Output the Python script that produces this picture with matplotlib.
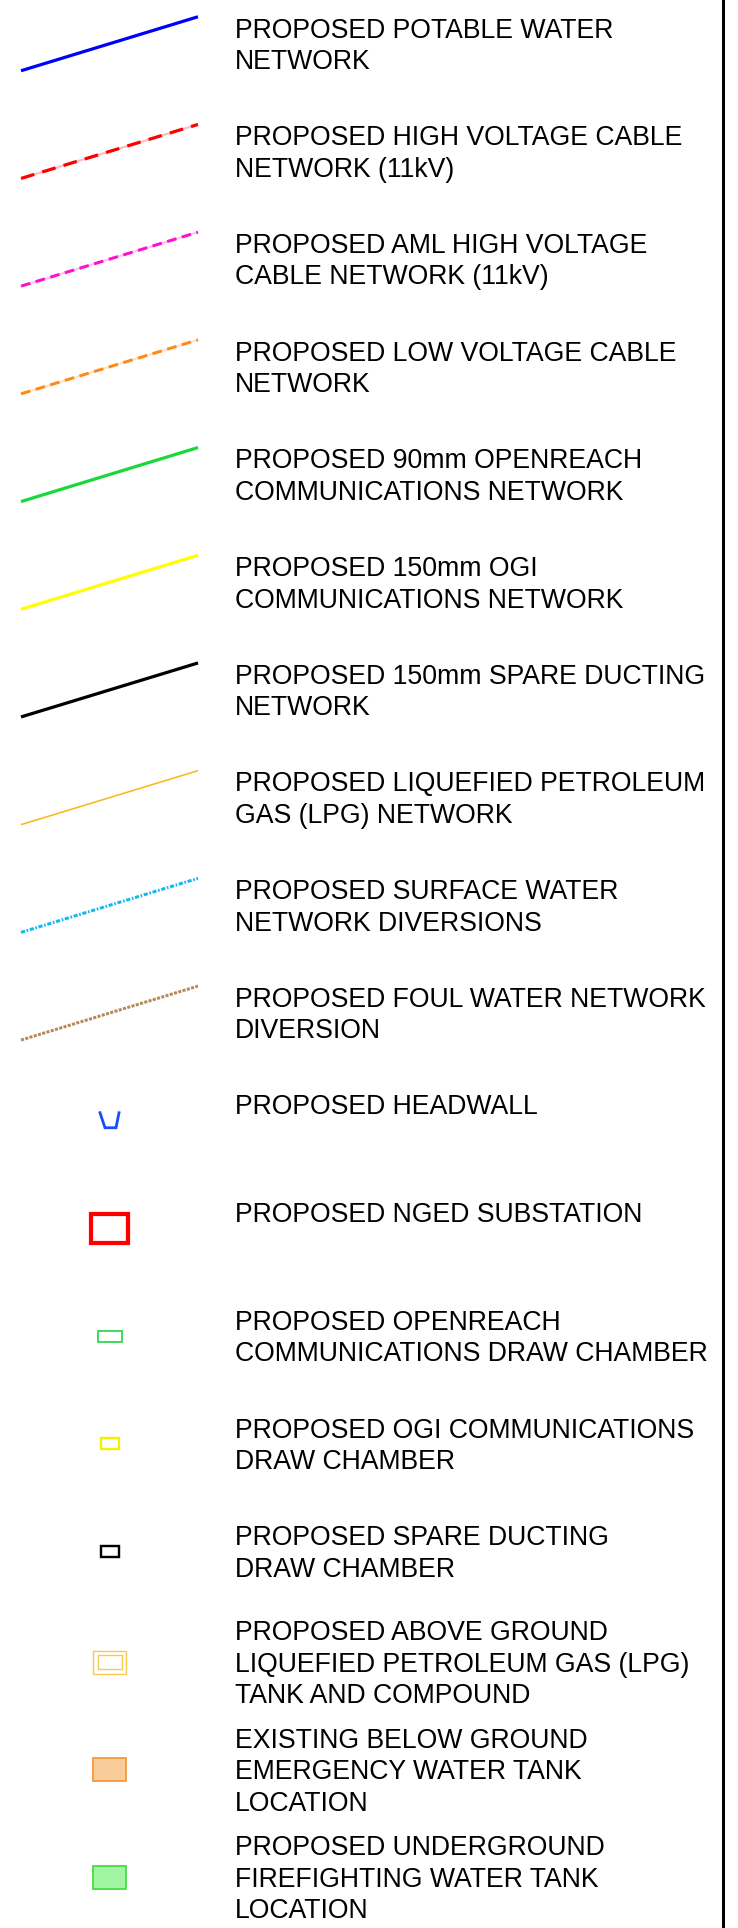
import matplotlib
matplotlib.use("Agg")
import matplotlib.pyplot as plt
from matplotlib.patches import Rectangle

plt.rcParams['lines.scale_dashes'] = False

# ---- legend content ----
labels = [
    ["PROPOSED POTABLE WATER", "NETWORK"],
    ["PROPOSED HIGH VOLTAGE CABLE", "NETWORK (11kV)"],
    ["PROPOSED AML HIGH VOLTAGE", "CABLE NETWORK (11kV)"],
    ["PROPOSED LOW VOLTAGE CABLE", "NETWORK"],
    ["PROPOSED 90mm OPENREACH", "COMMUNICATIONS NETWORK"],
    ["PROPOSED 150mm OGI", "COMMUNICATIONS NETWORK"],
    ["PROPOSED 150mm SPARE DUCTING", "NETWORK"],
    ["PROPOSED LIQUEFIED PETROLEUM", "GAS (LPG) NETWORK"],
    ["PROPOSED SURFACE WATER", "NETWORK DIVERSIONS"],
    ["PROPOSED FOUL WATER NETWORK", "DIVERSION"],
    ["PROPOSED HEADWALL"],
    ["PROPOSED NGED SUBSTATION"],
    ["PROPOSED OPENREACH", "COMMUNICATIONS DRAW CHAMBER"],
    ["PROPOSED OGI COMMUNICATIONS", "DRAW CHAMBER"],
    ["PROPOSED SPARE DUCTING", "DRAW CHAMBER"],
    ["PROPOSED ABOVE GROUND", "LIQUEFIED PETROLEUM GAS (LPG)", "TANK AND COMPOUND"],
    ["EXISTING BELOW GROUND", "EMERGENCY WATER TANK", "LOCATION"],
    ["PROPOSED UNDERGROUND", "FIREFIGHTING WATER TANK", "LOCATION"],
]
symbol_kind = ["line"] * 10 + ["headwall", "substation", "chamber", "chamber",
                                "chamber", "tank", "filled", "filled"]
line_colors = ["#0000FF", "#FF0000", "#FF10CC", "#FF8A1A", "#18D83A",
               "#FFFF00", "#000000", "#F7B91E", "#14B8F0", "#B58A5A"]
symbol_colors = ["#1C4BFF", "#FF0000", "#2ED84A", "#F2F200", "#000000",
                 "#F9C850", "#F29A3A", "#44DD44"]
fill_colors = {16: "#F9CD9A", 17: "#A2F5A2"}

W, H = 738, 1928
fig = plt.figure(figsize=(W / 100, H / 100), dpi=100)
ax = fig.add_axes([0, 0, 1, 1])
ax.set_xlim(0, W)
ax.set_ylim(H, 0)
ax.axis("off")

PT = 72 / 100  # points per pixel
ROW = 107.7
LSP = 31.5
TX = 235

def line_style(i):
    styles = {
        0: dict(lw=3.2, ls="-"),
        1: dict(lw=3.2, dashes=(10, 6)),
        2: dict(lw=3.0, dashes=(7, 4)),
        3: dict(lw=3.0, dashes=(7, 4)),
        4: dict(lw=3.2, ls="-"),
        5: dict(lw=3.2, ls="-"),
        6: dict(lw=3.2, ls="-"),
        7: dict(lw=1.6, ls="-"),
        8: dict(lw=3.0, dashes=(3, 1.2, 1.2, 1.2)),
        9: dict(lw=3.0, dashes=(2.2, 1.0)),
    }
    return styles[i]

for i, lines in enumerate(labels):
    n = len(lines)
    first = 28 + ROW * i - (13 if n >= 3 else 0)
    center = first + (max(n, 2) - 1) * LSP / 2
    for k, t in enumerate(lines):
        ax.text(TX, first + k * LSP + 9.5, t, fontsize=19.2, family="Liberation Sans",
                color="black", va="baseline", ha="left")
    kind = symbol_kind[i]
    if kind == "line":
        x0, x1 = 21, 198
        y0, y1 = center + 27, center - 27
        st = line_style(i)
        c = line_colors[i]
        if i in (1, 2, 3):
            ax.plot([x0, x1], [y0, y1], color=c, alpha=0.25, lw=st["lw"] * PT * 0.7,
                    solid_capstyle="butt")
        if "dashes" in st:
            ax.plot([x0, x1], [y0, y1], color=c, lw=st["lw"] * PT,
                    dashes=[d for d in st["dashes"]], dash_capstyle="butt")
        else:
            ax.plot([x0, x1], [y0, y1], color=c, lw=st["lw"] * PT,
                    solid_capstyle="butt")
    else:
        sc = symbol_colors[i - 10]
        cx = 109.5
        if kind == "headwall":
            ax.plot([cx - 9.5, cx - 4.5, cx + 6.5, cx + 9.5],
                    [center - 8, center + 7, center + 7, center - 8],
                    color=sc, lw=2.8 * PT, solid_joinstyle="miter")
        elif kind == "substation":
            w, h = 37, 29
            ax.add_patch(Rectangle((cx - w / 2, center - h / 2), w, h, fill=False,
                                   ec=sc, lw=4.2 * PT))
        elif kind == "chamber":
            w, h = (24, 11) if i == 12 else (18, 11)
            lw = 1.8 if i == 12 else 2.4
            ax.add_patch(Rectangle((cx - w / 2, center - h / 2), w, h, fill=False,
                                   ec=sc, lw=lw * PT))
        elif kind == "tank":
            ax.add_patch(Rectangle((cx - 16.5, center - 11.5), 33, 23, fill=False,
                                   ec=sc, lw=1.4 * PT))
            ax.add_patch(Rectangle((cx - 12, center - 7), 24, 14, fill=False,
                                   ec=sc, lw=1.4 * PT))
        elif kind == "filled":
            ax.add_patch(Rectangle((cx - 16.5, center - 11.5), 33, 23,
                                   fc=fill_colors[i], ec=sc, lw=1.8 * PT))

# right border line
ax.plot([723, 723], [0, H], color="black", lw=3 * PT)

fig.savefig("out.png", dpi=100, facecolor="white")
